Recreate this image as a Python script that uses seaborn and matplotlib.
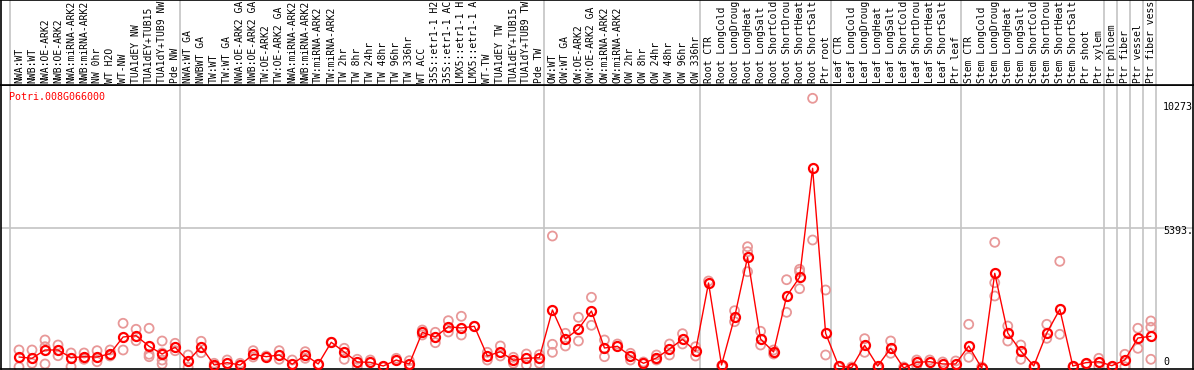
import numpy as np
import pandas as pd
import matplotlib
matplotlib.use("Agg")
import matplotlib.pyplot as plt
import seaborn as sns

sns.set_style("white")
plt.rcParams['font.family'] = ['DejaVu Sans Mono']

# sample labels as shown in the header (cut to the visible width)
labels = [
    "NWA:WT", "NWB:WT", "NWA:OE-ARK2", "NWB:OE-ARK2", "NWA:miRNA-ARK2", "NWB:miRNA-ARK2",
    "NW 0hr", "WT H2O", "WT-NW", "TUA1dEY NW", "TUA1dEY+TUB15", "TUA1dY+TUB9 NW", "Pde NW",
    "NWA:WT GA", "NWBWT GA", "TW:WT", "TW:WT GA", "NWA:OE-ARK2 GA", "NWB:OE-ARK2 GA",
    "TW:OE-ARK2", "TW:OE-ARK2 GA", "NWA:miRNA-ARK2", "NWB:miRNA-ARK2", "TW:miRNA-ARK2",
    "TW:miRNA-ARK2", "TW 2hr", "TW 8hr", "TW 24hr", "TW 48hr", "TW 96hr", "TW 336hr", "WT ACC",
    "35S::etr1-1 H2", "35S::etr1-1 AC", "LMX5::etr1-1 H", "LMX5::etr1-1 A", "WT-TW",
    "TUA1dEY TW", "TUA1dEY+TUB15", "TUA1dY+TUB9 TW", "Pde TW",
    "OW:WT", "OW:WT GA", "OW:OE-ARK2", "OW:OE-ARK2 GA", "OW:miRNA-ARK2", "OW:miRNA-ARK2",
    "OW 2hr", "OW 8hr", "OW 24hr", "OW 48hr", "OW 96hr", "OW 336hr",
    "Root CTR", "Root LongCold", "Root LongDroug", "Root LongHeat", "Root LongSalt",
    "Root ShortCold", "Root ShortDrou", "Root ShortHeat", "Root ShortSalt", "Ptr root",
    "Leaf CTR", "Leaf LongCold", "Leaf LongDroug", "Leaf LongHeat", "Leaf LongSalt",
    "Leaf ShortCold", "Leaf ShortDrou", "Leaf ShortHeat", "Leaf ShortSalt", "Ptr leaf",
    "Stem CTR", "Stem LongCold", "Stem LongDroug", "Stem LongHeat", "Stem LongSalt",
    "Stem ShortCold", "Stem ShortDrou", "Stem ShortHeat", "Stem ShortSalt", "Ptr shoot",
    "Ptr xylem", "Ptr phloem", "Ptr fiber", "Ptr vessel", "Ptr fiber vess",
]

# mean expression per sample
means = [
    527, 478, 791, 791, 501, 539, 527, 652, 1281, 1330, 930, 640, 893,
    377, 915, 226, 313, 226, 629, 539, 603, 256, 603, 264, 1081, 716, 339, 328, 188, 414,
    264, 1458, 1281, 1669, 1620, 1684, 565, 727, 403, 478, 501,
    2298, 1205, 1582, 2260, 866, 930, 565, 290, 490, 829, 1194, 742,
    3315, 226, 2023, 4283, 1205, 716, 2814, 3530, 7636, 1420,
    188, 124, 968, 188, 855, 113, 328, 350, 264, 264,
    942, 102, 3680, 1431, 753, 188, 1431, 2324, 188, 313,
    350, 200, 414, 1243, 1307,
]

# individual replicates per sample
replicates = [
    [791, 151], [791, 290], [1168, 264, 915], [979, 576], [678, 162], [678, 441],
    [765, 350], [791, 565], [1797, 791], [1571, 1141], [1609, 629, 539],
    [1130, 678, 414, 264], [1043, 765],
    [603, 139], [1119, 689], [290, 151], [414], [290], [765, 527], [565], [765, 441],
    [414], [727, 478], [226], [1081], [855, 441], [441, 162], [414], [151], [478],
    [388, 113], [1544, 1356], [1458, 1066], [1895, 1469], [2061, 1356], [1684],
    [704, 414], [942, 565], [516, 290], [640, 226], [614, 290],
    [5085, 1006, 704], [1420, 942], [2023, 1130], [2776, 1722], [1168, 539], [1017],
    [667, 414], [339], [603, 414], [1017, 603], [1405, 1017], [915, 565],
    [3390], [188], [2271, 1857], [4682, 4494, 3741], [1496, 979], [791, 640],
    [3439, 2211], [3831, 3741, 3100], [10273, 4935], [3051, 603],
    [151], [151], [1217, 704], [113], [1130, 667], [151], [414, 200], [414], [339], [377],
    [1759, 516], [151], [4848, 3326, 2825], [1695, 1130], [979, 441], [151],
    [1759, 1232], [4132, 1382], [151], [264],
    [478, 162], [151], [629, 162], [1609, 855], [1884, 1646, 441],
]

# last column index of each block (separator drawn after it)
block_ends = [12, 40, 52, 62, 72, 83, 84, 85, 86, 87]
gene = "Potri.008G066000"
y_marks = [10273, 5393, 0]
y_mark_text = ["10273", "5393.", "0"]

n = len(labels)
df_mean = pd.DataFrame({"pos": np.arange(n), "expr": means})
df_rep = pd.DataFrame(
    [(i, v) for i, reps in enumerate(replicates) for v in reps], columns=["pos", "expr"]
)

W, H = 1194, 370
fig = plt.figure(figsize=(W / 100, H / 100), dpi=100)
ax = fig.add_axes([1 / W, 1 / H, 1192 / W, 284 / H])
ax_head = fig.add_axes([1 / W, 285 / H, 1192 / W, 85 / H])

col_px = 13.01
x_lo, x_hi = (1 - 19) / col_px, (1193 - 19) / col_px
for a in (ax, ax_head):
    a.set_xlim(x_lo, x_hi)
    a.set_xticks([])
    a.set_yticks([])
    for s in a.spines.values():
        s.set_color("black")
        s.set_linewidth(1.2)
ax.set_ylim(75, 10774)
ax_head.set_ylim(0, 1)

seps = [-0.69] + [e + 0.38 for e in block_ends]
for a in (ax, ax_head):
    for x in seps:
        a.axvline(x, color="#c4c4c4", lw=1.2, zorder=0)
ax.axhline(5393, color="#c4c4c4", lw=1.2, zorder=0)

sns.scatterplot(data=df_rep, x="pos", y="expr", ax=ax, marker="o", s=42,
                facecolors="none", edgecolor="#e89898", linewidth=1.3, zorder=2,
                legend=False, clip_on=False)
sns.lineplot(data=df_mean, x="pos", y="expr", ax=ax, color="red", lw=1.0,
             marker="o", markersize=6.5, markerfacecolor="none",
             markeredgecolor="red", markeredgewidth=1.6, zorder=3)
ax.set_xlabel("")
ax.set_ylabel("")

# header labels
for i, lab in enumerate(labels):
    ax_head.text(i, 2 / 85, lab, rotation=90, ha="center", va="bottom",
                 fontsize=7.0, color="black")

ax.text(8 / 1192, 1 - 12 / 284, gene, transform=ax.transAxes, color="red",
        fontsize=7.2, ha="left", va="center")

offsets = [-6.5, -2.5, 6.5]
for v, t, off in zip(y_marks, y_mark_text, offsets):
    ax.annotate(t, xy=(1162 / 1192, v), xycoords=("axes fraction", "data"),
                xytext=(0, off), textcoords="offset points",
                ha="left", va="center", fontsize=7.2, color="black")

fig.savefig("out.png", dpi=100)
